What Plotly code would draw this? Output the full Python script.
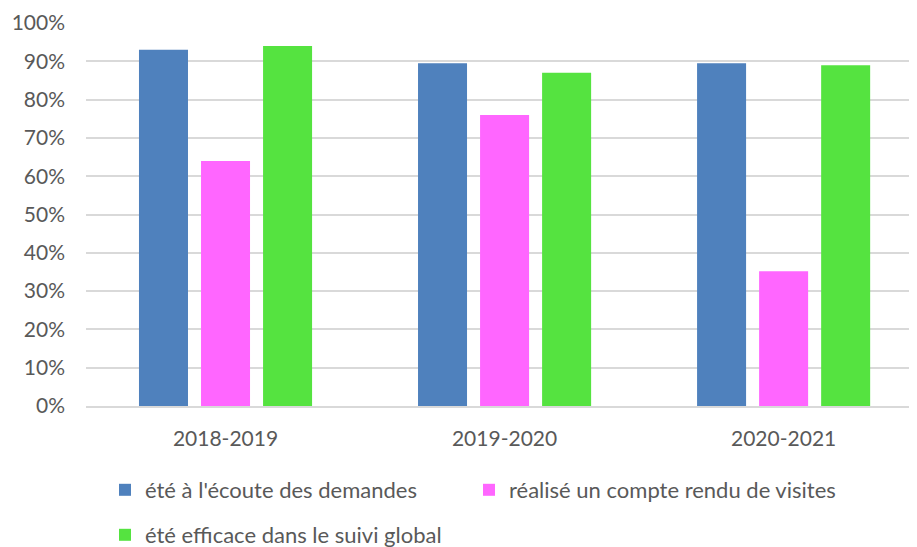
import plotly.graph_objects as go

categories = ["2018-2019", "2019-2020", "2020-2021"]
series_names = [
    "été à l'écoute des demandes",
    "réalisé un compte rendu de visites",
    "été efficace dans le suivi global",
]
ecoute = [0.93, 0.895, 0.895]
compte_rendu = [0.64, 0.76, 0.352]
efficace = [0.94, 0.87, 0.89]
colors = ["#4f81bd", "#ff66ff", "#55e340"]
y_ticks = [0, 0.1, 0.2, 0.3, 0.4, 0.5, 0.6, 0.7, 0.8, 0.9, 1.0]

FONT = "Lato"
TXT = "#595959"
LEG_SIZE = 22

fig = go.Figure()
for vals, name, col, leg in zip([ecoute, compte_rendu, efficace], series_names, colors,
                                ["legend", "legend2", "legend3"]):
    fig.add_trace(go.Bar(x=categories, y=vals, name=name, marker_color=col,
                         marker_line_width=0, legend=leg, showlegend=True))

# page body adds an 8px offset; figure sized to fill the rest of the window
OFF = 8
W, H = 917 - OFF, 547 - OFF


def leg(xpx, ypx):
    return dict(orientation="h", xref="container", yref="container",
                x=(xpx - OFF) / W, y=1 - (ypx - OFF) / H, xanchor="left", yanchor="middle",
                font=dict(size=LEG_SIZE, color=TXT), bgcolor="rgba(0,0,0,0)")


fig.update_layout(
    width=W, height=H,
    showlegend=True,
    barmode="group", bargap=0.333, bargroupgap=0.21,
    paper_bgcolor="white", plot_bgcolor="white",
    margin=dict(l=86 - OFF, r=0, t=23 - OFF, b=547 - 406, autoexpand=False),
    font=dict(family=FONT, size=21, color=TXT),
    xaxis=dict(range=[-0.5, 2.478], showline=True, linecolor="#d9d9d9", linewidth=2,
               ticks="", tickfont=dict(size=21, color=TXT), ticklabelstandoff=13),
    yaxis=dict(range=[0, 1.0], tickvals=y_ticks, tickformat=".0%", showgrid=True,
               gridcolor="#d9d9d9", gridwidth=2, zeroline=False, showline=False,
               ticks="", tickfont=dict(size=21, color=TXT), ticklabelstandoff=20),
    legend=leg(105, 490),
    legend2=leg(469, 490),
    legend3=leg(105, 535),
)

fig.write_html("out.html")
